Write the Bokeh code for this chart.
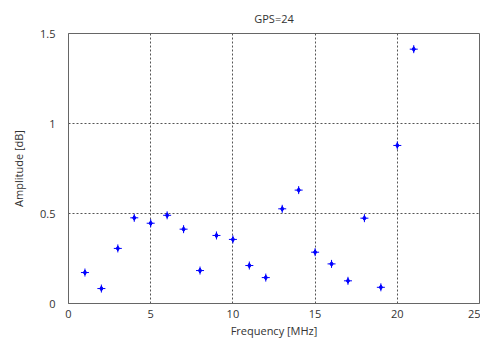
from bokeh.plotting import figure
from bokeh.models import FixedTicker, CustomJSTickFormatter, ColumnDataSource
from bokeh.embed import file_html
from bokeh.resources import INLINE

freq = [1, 2, 3, 4, 5, 6, 7, 8, 9, 10, 11, 12, 13, 14, 15, 16, 17, 18, 19, 20, 21]
amplitude = [0.172, 0.083, 0.306, 0.476, 0.446, 0.49, 0.413, 0.183, 0.378, 0.356,
             0.211, 0.144, 0.526, 0.63, 0.285, 0.22, 0.126, 0.474, 0.09, 0.878, 1.413]
x_ticks = [0, 5, 10, 15, 20, 25]
y_ticks = [0, 0.5, 1, 1.5]

FONT = "Open Sans"
TXT = "#333333"

p = figure(width=480, height=341, x_range=(0, 25), y_range=(0, 1.5),
           output_backend="svg", toolbar_location=None,
           min_border_left=68, min_border_right=1, min_border_top=33, min_border_bottom=38,
           title="GPS=24")
p.title.align = "center"
p.title.text_font = FONT
p.title.text_font_size = "11px"
p.title.text_font_style = "normal"
p.title.text_color = TXT
p.title.standoff = 16

p.outline_line_color = "#666666"
p.outline_line_width = 1
p.background_fill_color = "white"
p.border_fill_color = "white"

for ax in (p.xaxis[0], p.yaxis[0]):
    ax.major_tick_line_color = None
    ax.minor_tick_line_color = None
    ax.axis_line_color = "#666666"
    ax.major_label_text_font = FONT
    ax.major_label_text_font_size = "11px"
    ax.major_label_text_color = TXT
    ax.axis_label_text_font = FONT
    ax.axis_label_text_font_size = "11px"
    ax.axis_label_text_font_style = "normal"
    ax.axis_label_text_color = TXT

p.xaxis.ticker = FixedTicker(ticks=x_ticks)
p.yaxis.ticker = FixedTicker(ticks=y_ticks)
p.yaxis.formatter = CustomJSTickFormatter(code="return tick.toString();")
p.xaxis.axis_label = "Frequency [MHz]"
p.yaxis.axis_label = "Amplitude [dB]"
p.xaxis.major_label_standoff = 0
p.xaxis.axis_label_standoff = 2
p.yaxis.major_label_standoff = 7
p.yaxis.axis_label_standoff = 11

p.xgrid.ticker = FixedTicker(ticks=[5, 10, 15, 20])
p.ygrid.ticker = FixedTicker(ticks=[0.5, 1])
p.grid.grid_line_color = "#555555"
p.grid.grid_line_dash = "2 2"
p.grid.grid_line_width = 1

src = ColumnDataSource(dict(x=freq, y=amplitude))
p.scatter("x", "y", source=src, marker="cross", size=8, line_color="#0000ff", line_width=1)
p.scatter("x", "y", source=src, marker="diamond", size=5, fill_color="#0000ff", line_color="#0000ff")

open("out.html", "w").write(file_html(p, INLINE))
